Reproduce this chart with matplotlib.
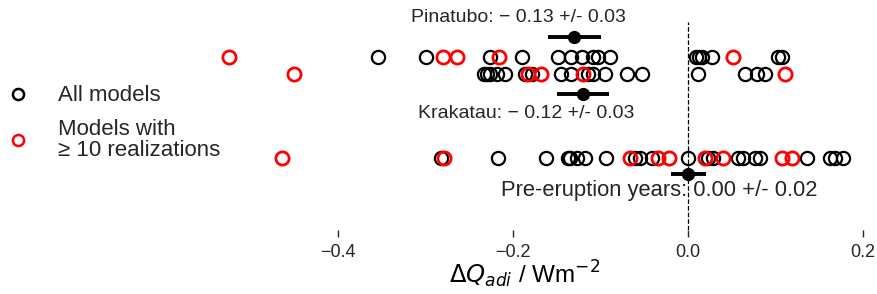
import matplotlib
matplotlib.use("Agg")
import matplotlib.pyplot as plt
from matplotlib.lines import Line2D

plt.rcParams['font.family'] = ['Liberation Sans', 'DejaVu Sans']
plt.rcParams['text.color'] = '#262626'
plt.rcParams['xtick.color'] = '#262626'

# ---- data ----
pinatubo_all = [-0.355, -0.300, -0.226, -0.190, -0.149, -0.134, -0.121, -0.109,
                -0.103, -0.089, 0.009, 0.013, 0.016, 0.027, 0.103, 0.107]
pinatubo_10 = [-0.525, -0.280, -0.264, -0.216, 0.051]
krakatau_all = [-0.233, -0.230, -0.226, -0.218, -0.209, -0.187, -0.178, -0.145,
                -0.134, -0.114, -0.109, -0.095, -0.070, -0.053, 0.011, 0.065,
                0.079, 0.088]
krakatau_10 = [-0.451, -0.183, -0.168, -0.120, 0.111]
pre_all = [-0.283, -0.217, -0.162, -0.137, -0.135, -0.127, -0.118, -0.094,
           -0.061, -0.055, -0.041, 0.000, 0.023, 0.029, 0.057, 0.063, 0.077,
           0.082, 0.136, 0.162, 0.168, 0.177]
pre_10 = [-0.464, -0.279, -0.066, -0.034, -0.022, 0.019, 0.040, 0.107, 0.119]

means = [-0.13, -0.12, 0.00]
errs = [0.03, 0.03, 0.02]
labels = ["Pinatubo: − 0.13 +/- 0.03", "Krakatau: − 0.12 +/- 0.03",
          "Pre-eruption years: 0.00 +/- 0.02"]
xticks = [-0.4, -0.2, 0.0, 0.2]

# ---- layout ----
row_y = [0.832, 0.75, 0.346]
mean_y = [0.928, 0.654, 0.269]
text_y = [1.02, 0.56, 0.19]
text_x = [-0.194, -0.185, -0.033]
text_size = [14, 14, 15.8]

fig = plt.figure(figsize=(8.78, 2.94), dpi=100)
ax = fig.add_axes([200/878, 1 - 230/294, 670/878, 208/294])

series_all = [pinatubo_all, krakatau_all, pre_all]
series_10 = [pinatubo_10, krakatau_10, pre_10]
for i in range(3):
    ax.plot(series_all[i], [row_y[i]] * len(series_all[i]), 'o', ms=9.5,
            mfc='none', mec='black', mew=1.6)
    ax.plot(series_10[i], [row_y[i]] * len(series_10[i]), 'o', ms=9.5,
            mfc='none', mec='red', mew=2.0)
    ax.errorbar(means[i], mean_y[i], xerr=errs[i], fmt='o', color='black',
                ms=8.5, elinewidth=2.8, capsize=0)
    ax.text(text_x[i], text_y[i], labels[i], ha='center',
            va='center', fontsize=text_size[i])

ax.axvline(0, color='black', ls='--', lw=0.9)

ax.set_xlim(-0.558, 0.208)
ax.set_ylim(0, 1)
ax.set_xticks(xticks)
ax.set_xticklabels([f"{t:.1f}".replace('-', '−') for t in xticks])
ax.tick_params(axis='x', direction='out', length=5, width=1, labelsize=13,
               pad=5)
ax.set_yticks([])
for s in ax.spines.values():
    s.set_visible(False)
ax.set_xlabel(r'$\Delta Q_{adi}$ / Wm$^{-2}$', fontsize=17.5, va='center')
ax.xaxis.set_label_coords((525 - 200) / 670, -44 / 208)

handles = [Line2D([], [], marker='o', ls='none', mfc='none', mec='black',
                  mew=1.8, ms=8),
           Line2D([], [], marker='o', ls='none', mfc='none', mec='red',
                  mew=1.8, ms=8)]
leg = fig.legend(handles, ["All models", "Models with\n≥ 10 realizations"],
                 loc='center left', bbox_to_anchor=(-0.028, 1 - 123/294),
                 frameon=False, fontsize=16, handletextpad=0.8,
                 labelspacing=0.55, handlelength=2.0)
for t in leg.get_texts():
    t.set_linespacing(1.0)

fig.savefig('out.png', dpi=100)
